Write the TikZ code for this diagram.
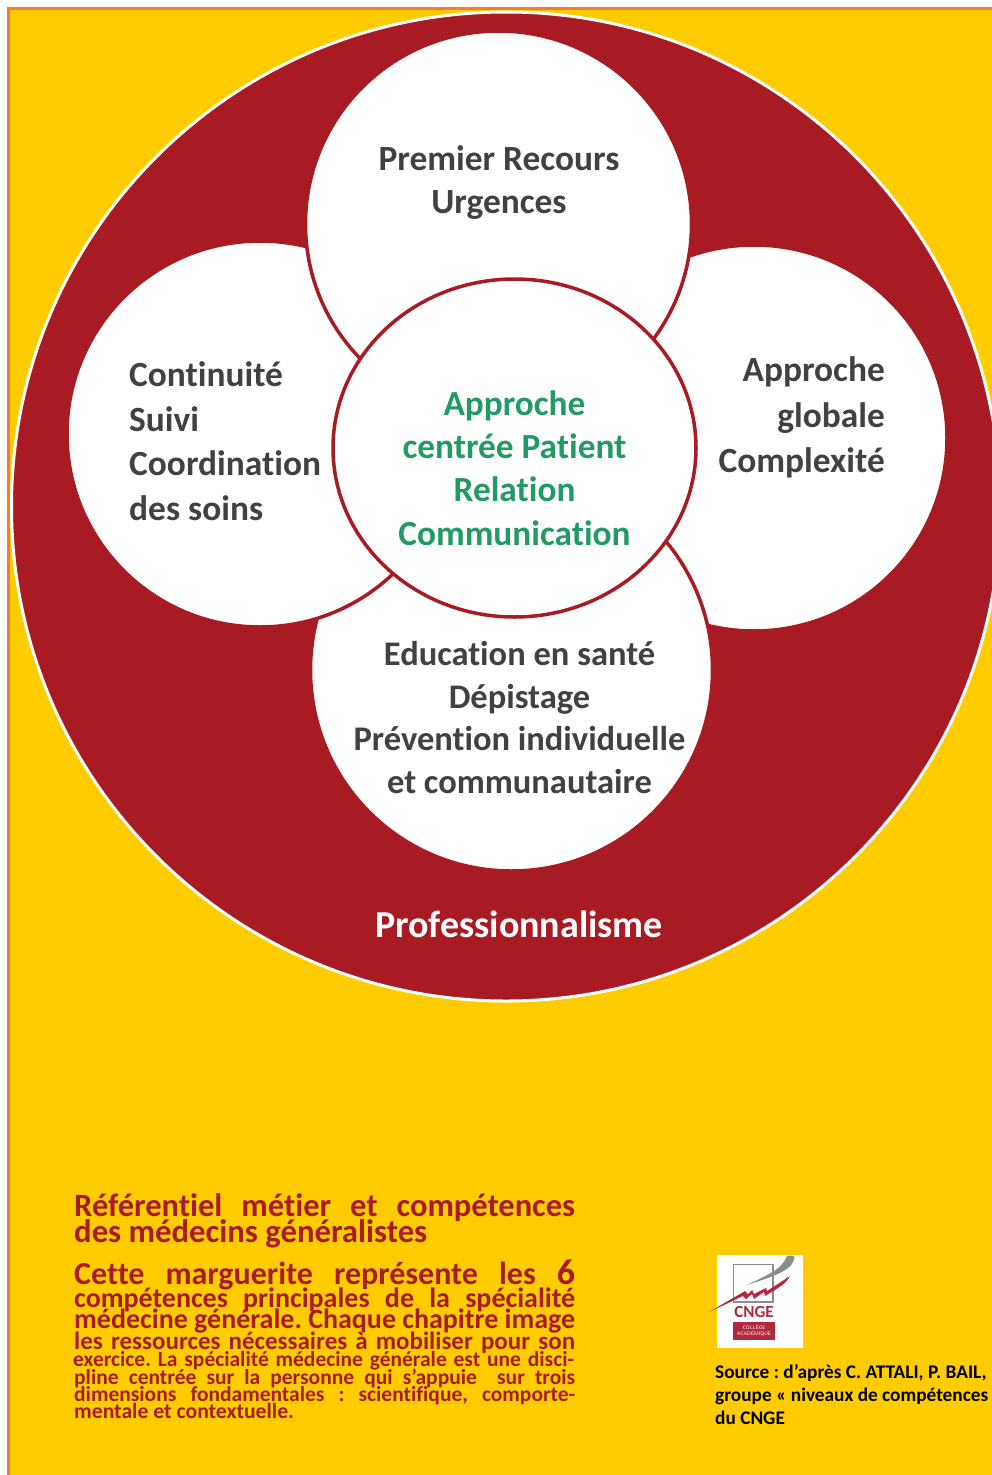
\documentclass[tikz,border=0pt]{standalone}
\usepackage{fontspec}
\usetikzlibrary{shapes.geometric}
\setmainfont{Carlito}[Ligatures=NoCommon]
\frenchspacing
\definecolor{bgyellow}{HTML}{FFCC00}
\definecolor{edgeorange}{HTML}{F47B30}
\definecolor{darkred}{HTML}{A91B22}
\definecolor{txtgrey}{HTML}{414042}
\definecolor{txtgreen}{HTML}{229A63}
\definecolor{logored}{HTML}{B1283F}
\definecolor{logogrey}{HTML}{8C8C8C}
\newcommand{\fs}[1]{\fontsize{#1}{#1}\selectfont}
\newcommand{\jline}[2]{\fs{#1}\makebox[501pt][s]{#2}}
\tikzset{
  petal/.style={circle,draw=darkred,line width=3.5pt,fill=white,inner sep=0pt},
  label/.style={text=txtgrey,inner sep=0pt},
  body/.style={font=\bfseries,text=darkred,anchor=base west,inner sep=0pt},
  source/.style={font=\bfseries\fontsize{19.3}{23}\selectfont,text=black,inner sep=0pt,anchor=base west}
}
\begin{document}
\begin{tikzpicture}[x=1pt,y=-1pt]
\useasboundingbox (0,0) rectangle (992,1475);
\fill[white] (0,0) rectangle (992,1475);
\fill[bgyellow] (8.5,8.5) rectangle (1000,1485);
\draw[edgeorange,line width=2.5pt] (8.5,1485) -- (8.5,8.5) -- (1000,8.5);
% big disc
\node[circle,draw=white,line width=3pt,fill=darkred,inner sep=0pt,minimum size=989pt] (disc) at (506,506.5) {};
% petals, back to front
\node[petal,minimum size=386pt] (pright) at (754,438) {};
\node[petal,minimum size=402pt] (pbottom) at (511.5,670) {};
\node[petal,minimum size=386pt] (pleft) at (260,434) {};
\node[petal,minimum size=386pt] (ptop) at (498.5,224) {};
\node[draw=darkred,line width=3.5pt,fill=white,inner sep=0pt,ellipse,minimum width=363pt,minimum height=338pt] (pcentre) at (514.5,448) {};
% labels
\node[label,align=center,font=\bfseries\fontsize{35.4}{43}\selectfont] (ltop) at (499,183) {Premier Recours\\Urgences};
\node[label,align=left,anchor=west,font=\bfseries\fontsize{35.4}{44.5}\selectfont] (lleft) at (129,441) {Continuité\\Suivi\\Coordination\\des soins};
\node[label,align=right,anchor=east,font=\bfseries\fontsize{35.4}{45.5}\selectfont] (lright) at (885,417.5) {Approche\\globale\\Complexité};
\node[label,align=center,font=\bfseries\fontsize{34.5}{42.7}\selectfont] (lbottom) at (519.5,717.5) {Education en santé\\Dépistage\\Prévention individuelle\\et communautaire};
\node[label,align=center,text=txtgreen,font=\bfseries\fontsize{35.3}{43.3}\selectfont] (lcentre) at (514.5,468) {Approche\\centrée Patient\\Relation\\Communication};
\node[label,text=white,font=\bfseries\fontsize{38}{38}\selectfont] (lprof) at (519,924) {Professionnalisme};
% body text
\node[body] (t1) at (74,1216) {\jline{32.5}{Référentiel métier et compétences}};
\node[body] (t2) at (74,1242) {\fs{32.7}des médecins généralistes};
\node[body] (t3) at (74,1284) {\jline{32}{Cette marguerite représente les {\fs{36}6}}};
\node[body] (t4) at (74,1307) {\jline{28}{compétences principales de la spécialité}};
\node[body] (t5) at (74,1328) {\jline{28}{médecine générale. Chaque chapitre image}};
\node[body] (t6) at (74,1349) {\jline{25}{les ressources nécessaires à mobiliser pour son}};
\node[body] (t7) at (73,1366) {\jline{21.5}{exercice. La spécialité médecine générale est une disci-}};
\node[body] (t8) at (74,1384) {\jline{21.5}{pline centrée sur la personne qui s’appuie\ \ sur trois}};
\node[body] (t9) at (74,1401) {\jline{21.5}{dimensions fondamentales : scientifique, comporte-}};
\node[body] (t10) at (74,1418) {\fs{21.7}mentale et contextuelle.};
% logo
\node[fill=white,inner sep=0pt,minimum width=86pt,minimum height=93pt] (logo) at (759.5,1301.5) {};
\draw[logogrey,line width=1.5pt] (733.5,1264.5) rectangle (773,1302);
\fill[logogrey] (747,1285) .. controls (765,1276) and (782,1270) .. (787,1256) .. controls (793,1255) and (796,1256) .. (794,1260) .. controls (790,1272) and (768,1278) .. (747,1285) -- cycle;
\fill[logored] (709,1312) -- (745,1291) -- (748,1294) -- (752,1290) -- (754,1294) -- (766,1288) -- (767,1291) -- (790,1276) .. controls (786,1284) and (778,1288) .. (765,1296) -- (764,1292) -- (754,1299) -- (752,1294) -- (746,1299) -- (743,1296) -- cycle;
\node[font=\bfseries\fontsize{17}{17}\selectfont,text=logored,inner sep=0pt] (cnge) at (754,1312) {CNGE};
\node[fill=logored,text=white,font=\fontsize{5}{6}\selectfont\sffamily,align=center,inner sep=0pt,minimum width=42pt,minimum height=18pt] (college) at (754,1331) {COLLÈGE\\ACADÉMIQUE};
% source
\node[source] (s1) at (715,1378) {Source : d’après C. ATTALI, P. BAIL,};
\node[source] (s2) at (715,1401) {groupe « niveaux de compétences »};
\node[source] (s3) at (715,1424) {du CNGE};
\end{tikzpicture}
\end{document}
